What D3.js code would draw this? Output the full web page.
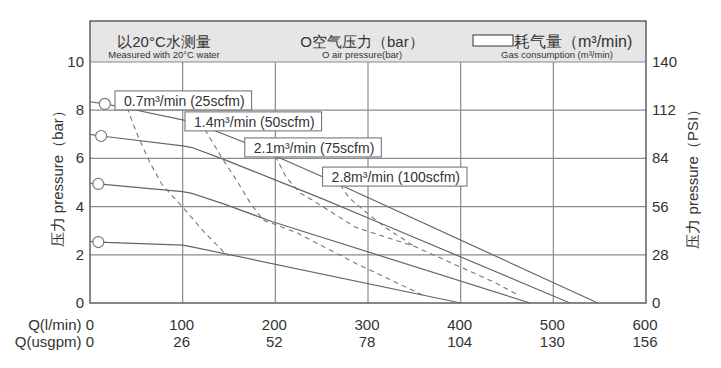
<!DOCTYPE html>
<html>
<head>
<meta charset="utf-8">
<script src="https://cdn.jsdelivr.net/npm/d3@7"></script>
<style>
  body { margin: 0; background: #fff; }
  svg text { font-family: "Liberation Sans", Arial, sans-serif; fill: #333; }
</style>
</head>
<body>
<div id="chart"></div>
<script>
// Ticks
const flowTicks = [0, 100, 200, 300, 400, 500, 600];
const gpmTicks = [0, 26, 52, 78, 104, 130, 156];
const barTicks = [0, 2, 4, 6, 8, 10];
const psiTicks = [0, 28, 56, 84, 112, 140];

// Pressure curves (Q l/min, bar)
const p83 = [[0, 8.35], [16, 8.26], [40, 8.08], [100, 7.6], [115, 7.45], [165, 6.69], [251, 5.24], [548, 0]];
const p7 = [[0, 7.0], [12, 6.93], [100, 6.52], [110, 6.45], [143, 5.98], [197, 5.15], [251, 4.32], [313, 3.32], [518, 0]];
const p5 = [[0, 4.97], [9, 4.94], [100, 4.62], [110, 4.55], [145, 4.1], [197, 3.37], [475, 0]];
const p25 = [[0, 2.56], [9, 2.53], [100, 2.4], [110, 2.33], [400, 0]];
const pressureCurves = [p83, p7, p5, p25];
const circleQ = [16, 12, 9, 9];

// Air consumption curves (dashed)
const air07 = [[40, 8.1], [52, 6.9], [65, 5.8], [78, 4.9], [100, 3.98], [123, 2.95], [146, 2.05], [150, 1.97]];
const air14 = [[124, 7.2], [143, 5.98], [158, 5.1], [173, 4.15], [187, 3.44], [224, 2.9], [286, 1.66], [359, 0.33]];
const air21 = [[200, 6.1], [212, 5.2], [227, 4.56], [240, 4.27], [286, 3.15], [350, 2.35], [437, 0.85], [461, 0.35]];
const air28 = [[270, 4.9], [280, 4.35], [299, 3.73], [320, 3.1], [350, 2.35]];
const airCurves = [air07, air14, air21, air28];
const airLabels = ["0.7m³/min (25scfm)", "1.4m³/min (50scfm)", "2.1m³/min (75scfm)", "2.8m³/min (100scfm)"];
const labelAnchor = [[27, 8.8], [102.5, 7.93], [167, 6.85], [251, 5.64]];

const W = 721, H = 368;
const margin = { top: 62, right: 75, bottom: 65, left: 90 };

const svg = d3.select("#chart").append("svg")
    .attr("width", W).attr("height", H);

const x = d3.scaleLinear().domain([0, 600]).range([margin.left, W - margin.right]);
const y = d3.scaleLinear().domain([0, 10]).range([H - margin.bottom, margin.top]);
const y2 = d3.scaleLinear().domain([0, 140]).range([H - margin.bottom, margin.top]);

const frameTop = 21;
const gridColor = "#8a8a8a";

// header band
svg.append("rect")
    .attr("x", x(0)).attr("y", frameTop)
    .attr("width", x(600) - x(0)).attr("height", y(10) - frameTop)
    .attr("fill", "#e6e6e6");

// grid
svg.append("g").selectAll("line").data(flowTicks.slice(1, -1)).join("line")
    .attr("x1", d => x(d)).attr("x2", d => x(d))
    .attr("y1", y(10)).attr("y2", y(0))
    .attr("stroke", gridColor).attr("stroke-width", 1.2);
svg.append("g").selectAll("line").data(barTicks.slice(1)).join("line")
    .attr("x1", x(0)).attr("x2", x(600))
    .attr("y1", d => y(d)).attr("y2", d => y(d))
    .attr("stroke", gridColor).attr("stroke-width", 1.2);

// frame
svg.append("rect")
    .attr("x", x(0)).attr("y", frameTop)
    .attr("width", x(600) - x(0)).attr("height", y(0) - frameTop)
    .attr("fill", "none").attr("stroke", "#555").attr("stroke-width", 1.4);

// header text
const hdr = svg.append("g");
hdr.append("text").attr("x", 164).attr("y", 47).attr("text-anchor", "middle")
    .style("font-size", "15px").text("以20°C水测量");
hdr.append("text").attr("x", 164).attr("y", 58).attr("text-anchor", "middle")
    .style("font-size", "9.5px").text("Measured with 20°C water");
hdr.append("text").attr("x", 362).attr("y", 47).attr("text-anchor", "middle")
    .style("font-size", "15px").text("O空气压力（bar）");
hdr.append("text").attr("x", 362).attr("y", 58).attr("text-anchor", "middle")
    .style("font-size", "9.5px").text("O air pressure(bar)");
hdr.append("rect").attr("x", 473).attr("y", 35).attr("width", 40).attr("height", 11)
    .attr("fill", "#fff").attr("stroke", "#333").attr("stroke-width", 1);
hdr.append("text").attr("x", 514).attr("y", 47)
    .style("font-size", "16px").text("耗气量（m³/min)");
hdr.append("text").attr("x", 557).attr("y", 58).attr("text-anchor", "middle")
    .style("font-size", "9.5px").text("Gas consumption (m³/min)");

// left ticks
svg.append("g").selectAll("text").data(barTicks).join("text")
    .attr("x", x(0) - 6).attr("y", d => y(d) + 5)
    .attr("text-anchor", "end").style("font-size", "15px")
    .text(d => d);
// right ticks
svg.append("g").selectAll("text").data(psiTicks).join("text")
    .attr("x", x(600) + 6).attr("y", d => y2(d) + 5)
    .style("font-size", "15px")
    .text(d => d);

// bottom rows
svg.append("g").selectAll("text").data(flowTicks.slice(1)).join("text")
    .attr("x", d => x(d) - 1).attr("y", 330).attr("text-anchor", "middle")
    .style("font-size", "15px").text(d => d);
svg.append("g").selectAll("text").data(gpmTicks.slice(1)).join("text")
    .attr("x", (d, i) => x(flowTicks[i + 1]) - 1).attr("y", 347).attr("text-anchor", "middle")
    .style("font-size", "15px").text(d => d);
svg.append("text").attr("x", x(0) + 4).attr("y", 330).attr("text-anchor", "end")
    .style("font-size", "15px").text("Q(l/min) " + flowTicks[0]);
svg.append("text").attr("x", x(0) + 4).attr("y", 347).attr("text-anchor", "end")
    .style("font-size", "15px").text("Q(usgpm) " + gpmTicks[0]);

// axis titles
svg.append("text")
    .attr("transform", `translate(63,${y(5.3)}) rotate(-90)`)
    .attr("text-anchor", "middle").style("font-size", "15px")
    .text("压力 pressure（bar）");
svg.append("text")
    .attr("transform", `translate(698,${y(5.3)}) rotate(-90)`)
    .attr("text-anchor", "middle").style("font-size", "15px")
    .text("压力 pressure（PSI）");

const line = d3.line().x(d => x(d[0])).y(d => y(d[1]));

// dashed air consumption curves
svg.append("g").selectAll("path").data(airCurves).join("path")
    .attr("d", line)
    .attr("fill", "none").attr("stroke", "#777").attr("stroke-width", 1.1)
    .attr("stroke-dasharray", "5,4");

// pressure curves
svg.append("g").selectAll("path").data(pressureCurves).join("path")
    .attr("d", line)
    .attr("fill", "none").attr("stroke", "#666").attr("stroke-width", 1.2);

// circles at start of pressure curves
svg.append("g").selectAll("circle").data(pressureCurves).join("circle")
    .attr("cx", (d, i) => x(circleQ[i]))
    .attr("cy", (d, i) => y(d3.scaleLinear().domain(d.map(p => p[0])).range(d.map(p => p[1]))(circleQ[i])))
    .attr("r", 5.5)
    .attr("fill", "#fff").attr("stroke", "#777").attr("stroke-width", 1.2);

// label boxes
const lbl = svg.append("g").selectAll("g").data(airLabels).join("g")
    .attr("transform", (d, i) => `translate(${x(labelAnchor[i][0])},${y(labelAnchor[i][1])})`);
lbl.append("text")
    .attr("x", 9).attr("y", 15)
    .style("font-size", "14px")
    .text(d => d);
lbl.each(function() {
    const g = d3.select(this);
    const bb = g.select("text").node().getBBox();
    g.insert("rect", "text")
        .attr("x", 0).attr("y", 0)
        .attr("width", bb.width + 16).attr("height", 19)
        .attr("fill", "#fff").attr("stroke", "#777").attr("stroke-width", 1.1);
});
</script>
</body>
</html>
